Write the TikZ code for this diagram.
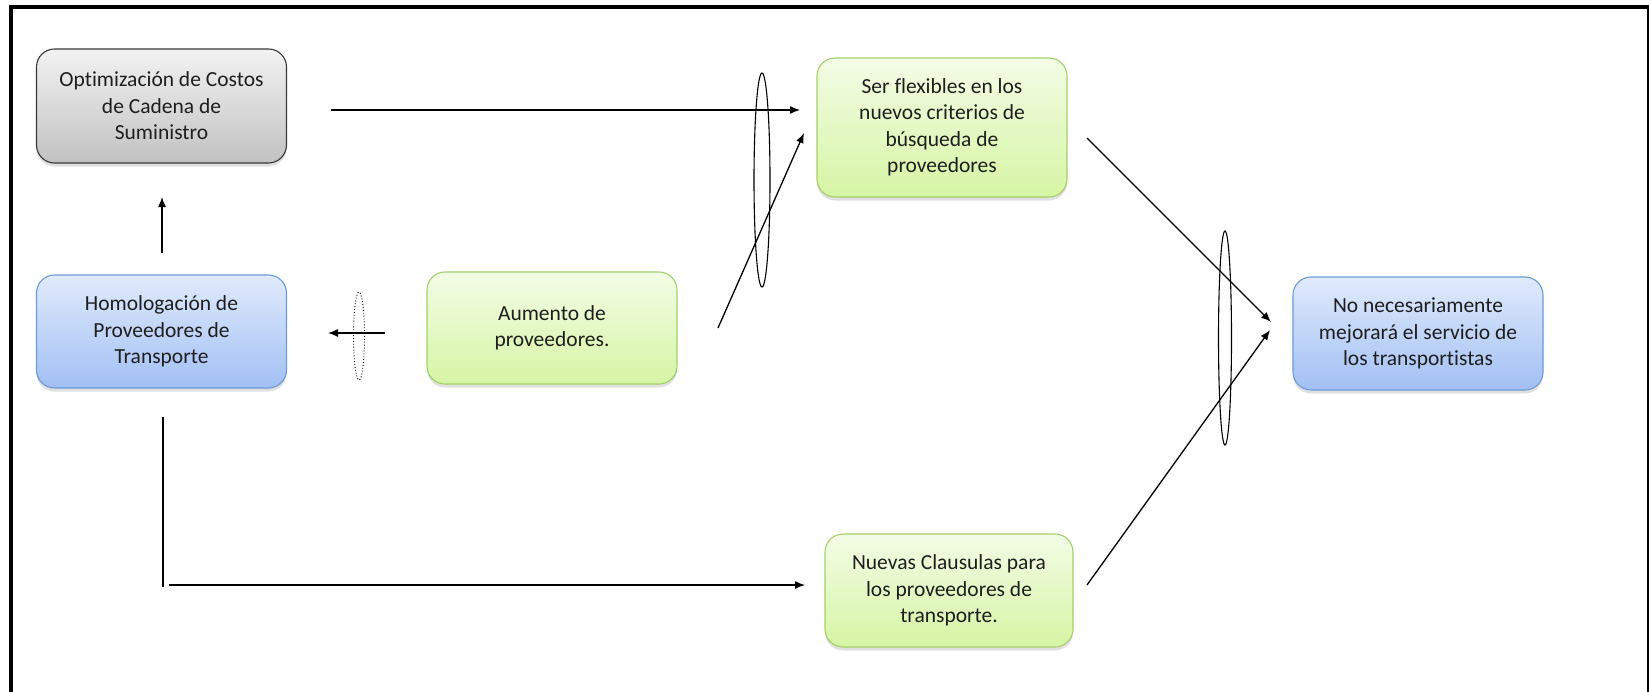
\documentclass[tikz,border=0pt]{standalone}
\usepackage{fontspec}
\setmainfont[Ligatures={NoCommon}]{Carlito}
\usetikzlibrary{arrows.meta,shadows}
\definecolor{txt}{HTML}{1E1E1E}
\tikzset{
  box/.style={rounded corners=18pt, draw, line width=1.1pt, align=center,
    minimum width=250pt, text=txt,
    font=\fontsize{21.5pt}{26.5pt}\selectfont,
    drop shadow={shadow xshift=0pt, shadow yshift=-3.5pt, opacity=0.12, fill=black}},
  graybox/.style={box, draw=black!78, top color=black!5, bottom color=black!24},
  bluebox/.style={box, draw={rgb,255:red,108;green,154;blue,214}, top color={rgb,255:red,224;green,234;blue,252}, bottom color={rgb,255:red,162;green,192;blue,244}},
  greenbox/.style={box, draw={rgb,255:red,165;green,207;blue,106}, top color={rgb,255:red,243;green,252;blue,230}, bottom color={rgb,255:red,214;green,245;blue,164}},
  conn/.style={line width=1.3pt, -{Latex[length=10pt,width=8pt]}},
  plain/.style={line width=1.3pt},
  ring/.style={line width=1.1pt},
  dotring/.style={line width=0.9pt, dotted},
  frame/.style={black, line cap=butt}
}
\begin{document}
\begin{tikzpicture}[x=1pt,y=-1pt]
\useasboundingbox (0,0) rectangle (1649,691);
% outer frame
\draw[frame, line width=4pt] (9,7) -- (1649,7);
\draw[frame, line width=4pt] (11,5) -- (11,695);
\draw[frame, line width=2pt] (1647.5,5) -- (1647.5,695);

% boxes
\node[graybox, minimum height=114pt] (opt) at (161.5,106) {Optimización de Costos\\de Cadena de\\Suministro};
\node[bluebox, minimum height=113pt] (hom) at (161.5,331.5) {Homologación de\\Proveedores de\\Transporte};
\node[greenbox, minimum height=112pt] (aum) at (552,328) {Aumento de\\proveedores.};
\node[greenbox, minimum height=139pt] (ser) at (942,127.5) {Ser flexibles en los\\nuevos criterios de\\búsqueda de\\proveedores};
\node[greenbox, minimum width=248pt, minimum height=113pt] (nue) at (949,590.5) {Nuevas Clausulas para\\los proveedores de\\transporte.};
\node[bluebox, minimum height=113pt] (nom) at (1418,333.5) {No necesariamente\\mejorará el servicio de\\los transportistas};

% connector end points
\coordinate (optA) at (331,110);
\coordinate (serA) at (800,110);
\coordinate (homA) at (162,253);
\coordinate (optB) at (162,197);
\coordinate (aumA) at (385,333);
\coordinate (homB) at (328,333);
\coordinate (aumB) at (718,328);
\coordinate (serB) at (804,133);
\coordinate (serC) at (1087,138);
\coordinate (nomA) at (1271,322);
\coordinate (nueA) at (1087,585);
\coordinate (nomB) at (1270,330);
\coordinate (homC) at (163,417);
\coordinate (homD) at (163,587);
\coordinate (homE) at (169,585);
\coordinate (nueB) at (805,585);

% connectors
\draw[conn] (optA) -- (serA);
\draw[conn] (homA) -- (optB);
\draw[conn] (aumA) -- (homB);
\draw[conn] (aumB) -- (serB);
\draw[conn] (serC) -- (nomA);
\draw[conn] (nueA) -- (nomB);
\draw[plain] (homC) -- (homD);
\draw[conn] (homE) -- (nueB);

% grouping ellipses
\draw[dotring] (359,336) ellipse [x radius=5.5, y radius=44];
\draw[ring] (762,180) ellipse [x radius=8, y radius=107];
\draw[ring] (1225,338) ellipse [x radius=6.5, y radius=107];
\end{tikzpicture}
\end{document}
